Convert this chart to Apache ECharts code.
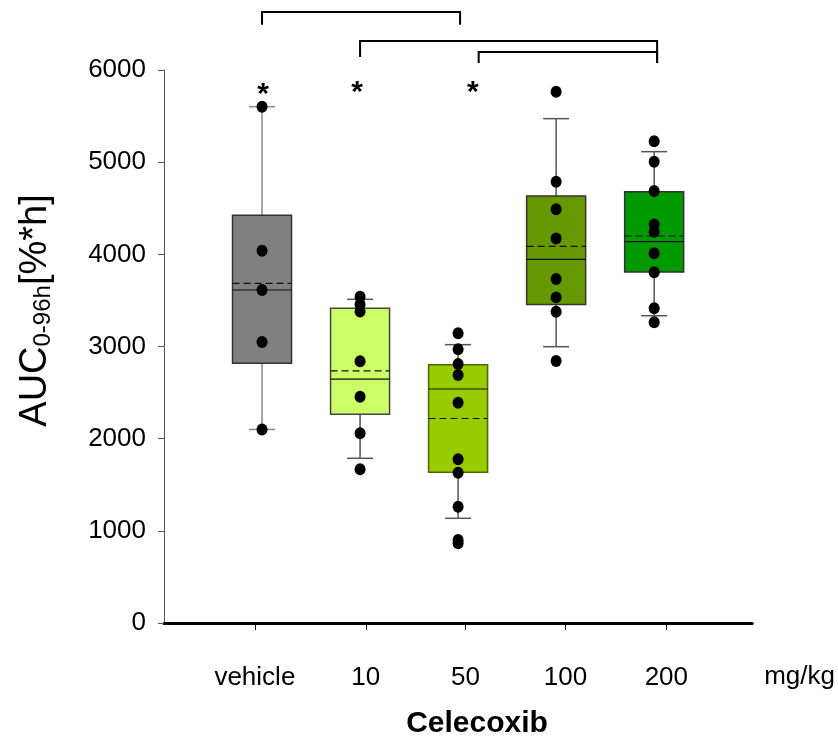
<!DOCTYPE html>
<html>
<head>
<meta charset="utf-8">
<script src="https://cdn.jsdelivr.net/npm/echarts@6/dist/echarts.min.js"></script>
<style>html,body{margin:0;padding:0;background:#fff}#c{width:838px;height:738px}</style>
</head>
<body>
<div id="c"></div>
<script>
// ---- data ----
const groups = ['vehicle', '10', '50', '100', '200'];
const groupPos = [1, 2, 3, 4, 5];
const whiskerLow  = [2100, 1787, 1136, 2998, 3334];
const q1          = [2817, 2266, 1635, 3457, 3808];
const median      = [3613, 2647, 2539, 3946, 4137];
const q3          = [4423, 3414, 2803, 4633, 4680];
const whiskerHigh = [5602, 3512, 3020, 5472, 5114];
const mean        = [3685, 2735, 2219, 4087, 4199];
const ptsVehicle = [5600, 4040, 3613, 3050, 2100];
const pts10      = [3540, 3455, 3380, 2840, 2455, 2060, 1668];
const pts50      = [3143, 2970, 2810, 2690, 2390, 1776, 1631, 1262, 900, 865];
const pts100     = [5765, 4788, 4488, 4173, 3732, 3533, 3378, 2843];
const pts200     = [5226, 5005, 4687, 4325, 4246, 4011, 3805, 3414, 3262];
const yTicks = [0, 1000, 2000, 3000, 4000, 5000, 6000];
const xTickPos = [0.927, 2.058, 3.076, 4.095, 5.124];
const xTickLabels = ['vehicle', '10', '50', '100', '200'];
// significance annotations
const starX = [1.01, 1.97, 3.15];
const starY = [5800, 5820, 5820];
// brackets: [x1, x2, yTop, yLeftEnd, yRightEnd]
const bracket1 = [1.0, 3.02, 6630, 6490, 6490];
const bracket2 = [2.0, 5.03, 6315, 6140, 6076];
const bracket3 = [3.21, 5.03, 6195, 6076, 6076];

// ---- styles ----
const fills   = ['#808080', '#ccff66', '#99cc00', '#669900', '#009900'];
const borders = ['#333333', '#444444', '#4d6600', '#333333', '#333333'];
const FONT = 'Liberation Sans, Arial, sans-serif';

const allPts = [ptsVehicle, pts10, pts50, pts100, pts200];
const scatterData = [];
allPts.forEach((arr, i) => arr.forEach(v => scatterData.push([groupPos[i], v])));

const boxData = groups.map((g, i) => [groupPos[i], whiskerLow[i], q1[i], median[i], q3[i], whiskerHigh[i], mean[i]]);

const chart = echarts.init(document.getElementById('c'), null, {renderer: 'canvas'});

const BOX_W = 59, CAP_W = 26;

chart.setOption({
  animation: false,
  backgroundColor: '#fff',
  title: {
    text: 'Celecoxib',
    left: 472, top: 704, textAlign: 'center',
    textStyle: {fontFamily: FONT, fontSize: 30, fontWeight: 'bold', color: '#000'}
  },
  grid: {left: 164, right: 85, top: 70, bottom: 115, containLabel: false},
  xAxis: {
    type: 'value', min: 0, max: 6,
    splitLine: {show: false},
    axisLine: {show: true, onZero: false, lineStyle: {color: '#000', width: 3}},
    axisTick: {show: true, customValues: xTickPos, length: 7, lineStyle: {color: '#000', width: 1}},
    axisLabel: {
      show: true, customValues: xTickPos, margin: 42,
      formatter: v => { const k = xTickPos.findIndex(p => Math.abs(p - v) < 1e-6); return k >= 0 ? xTickLabels[k] : ''; },
      fontFamily: FONT, fontSize: 26, color: '#000'
    },
    name: 'mg/kg', nameLocation: 'end', nameGap: 12,
    nameTextStyle: {fontFamily: FONT, fontSize: 26, color: '#000', verticalAlign: 'top', lineHeight: 30, padding: [39, 0, 0, 0]}
  },
  yAxis: {
    type: 'value', min: 0, max: 6000, interval: 1000,
    splitLine: {show: false},
    axisLine: {show: true, lineStyle: {color: '#555', width: 1}},
    axisTick: {show: true, inside: false, length: 6, lineStyle: {color: '#555'}},
    axisLabel: {margin: 18, fontFamily: FONT, fontSize: 26, color: '#000',
      formatter: v => yTicks.indexOf(v) >= 0 ? String(v) : ''},
    name: '{a|AUC}{b|0-96h}{a|[%*h]}',
    nameLocation: 'middle', nameRotate: 90, nameGap: 109,
    nameTextStyle: {
      padding: [0, 0, 0, 72],
      rich: {
        a: {fontFamily: FONT, fontSize: 38, color: '#000', verticalAlign: 'bottom', lineHeight: 44},
        b: {fontFamily: FONT, fontSize: 24, color: '#000', verticalAlign: 'bottom', lineHeight: 38}
      }
    }
  },
  series: [
    {
      type: 'custom',
      clip: false,
      data: boxData,
      encode: {x: 0, y: [1, 2, 3, 4, 5, 6]},
      renderItem: function (params, api) {
        const i = params.dataIndex;
        const x = api.value(0);
        const pLow = api.coord([x, api.value(1)]);
        const pQ1 = api.coord([x, api.value(2)]);
        const pMed = api.coord([x, api.value(3)]);
        const pQ3 = api.coord([x, api.value(4)]);
        const pHigh = api.coord([x, api.value(5)]);
        const pMean = api.coord([x, api.value(6)]);
        const cx = pMed[0];
        const wStyle = {stroke: i === 0 ? '#888' : '#555', lineWidth: 1.5};
        return {
          type: 'group',
          children: [
            {type: 'line', shape: {x1: cx, y1: pLow[1], x2: cx, y2: pQ1[1]}, style: wStyle},
            {type: 'line', shape: {x1: cx, y1: pQ3[1], x2: cx, y2: pHigh[1]}, style: wStyle},
            {type: 'line', shape: {x1: cx - CAP_W / 2, y1: pLow[1], x2: cx + CAP_W / 2, y2: pLow[1]}, style: wStyle},
            {type: 'line', shape: {x1: cx - CAP_W / 2, y1: pHigh[1], x2: cx + CAP_W / 2, y2: pHigh[1]}, style: wStyle},
            {type: 'rect', shape: {x: cx - BOX_W / 2, y: pQ3[1], width: BOX_W, height: pQ1[1] - pQ3[1]},
              style: {fill: fills[i], stroke: borders[i], lineWidth: 1.5}},
            {type: 'line', shape: {x1: cx - BOX_W / 2, y1: pMed[1], x2: cx + BOX_W / 2, y2: pMed[1]},
              style: {stroke: '#111', lineWidth: 1.2}},
            {type: 'line', shape: {x1: cx - BOX_W / 2, y1: pMean[1], x2: cx + BOX_W / 2, y2: pMean[1]},
              style: {stroke: '#111', lineWidth: 1.2, lineDash: [7, 4]}}
          ]
        };
      },
      z: 2
    },
    {
      type: 'scatter',
      data: scatterData,
      symbol: 'circle',
      symbolSize: [11, 12],
      itemStyle: {color: '#000', opacity: 1},
      clip: false,
      z: 5
    },
    {
      type: 'custom',
      clip: false,
      data: starX.map((x, k) => [x, starY[k]]),
      renderItem: function (params, api) {
        const p = api.coord([api.value(0), api.value(1)]);
        return {type: 'text', x: p[0], y: p[1] + 6,
          style: {text: '*', fill: '#000', font: 'bold 30px ' + FONT, align: 'center', verticalAlign: 'middle'}};
      },
      z: 6
    },
    {
      type: 'custom',
      clip: false,
      data: [bracket1, bracket2, bracket3],
      encode: {x: [0, 1], y: [2, 3, 4]},
      renderItem: function (params, api) {
        const a = api.coord([api.value(0), api.value(2)]);
        const b = api.coord([api.value(1), api.value(2)]);
        const aL = api.coord([api.value(0), api.value(3)]);
        const bR = api.coord([api.value(1), api.value(4)]);
        return {type: 'polyline',
          shape: {points: [[aL[0], aL[1]], [a[0], a[1]], [b[0], b[1]], [bR[0], bR[1]]]},
          style: {stroke: '#000', lineWidth: 2, fill: null}};
      },
      z: 6
    }
  ]
});
</script>
</body>
</html>
